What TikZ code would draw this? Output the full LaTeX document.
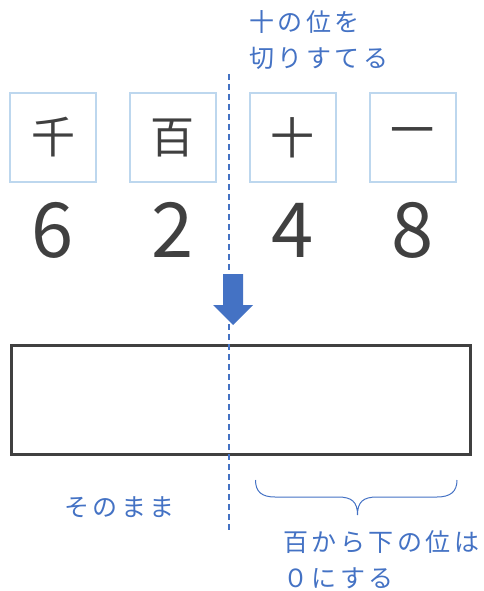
\documentclass[tikz,border=0pt]{standalone}
\usepackage{fontspec}
\setmainfont{Noto Sans CJK JP}
\newfontfamily\jp[LetterSpace=14]{Noto Sans CJK JP}
\definecolor{txtblue}{HTML}{4472C4}
\definecolor{boxblue}{HTML}{BDD7EE}
\definecolor{dark}{HTML}{404040}
\begin{document}
\begin{tikzpicture}[x=1pt,y=-1pt,
  place/.style={draw=boxblue,line width=2pt,minimum width=86pt,minimum height=89pt,inner sep=0pt,text=dark,font=\fontsize{44}{44}\selectfont},
  digit/.style={anchor=base,inner sep=0pt,text=dark,font=\fontsize{76}{76}\selectfont},
  note/.style={inner sep=0pt,text=txtblue,align=left,font=\jp\fontsize{25}{36}\selectfont},
  cut/.style={txtblue,line width=1.6pt,dash pattern=on 6pt off 4pt}]
\useasboundingbox (0,0) rectangle (483,591);
\node[place] (sen) at (53,137.5) {千};
\node[place] (hyaku) at (172.5,137.5) {百};
\node[place] (juu) at (292.5,137.5) {十};
\node[place] (ichi) at (412.5,137.5) {一};
\node[digit] (d6) at (53,257) {6};
\node[digit] (d2) at (172.5,257) {2};
\node[digit] (d4) at (292.5,257) {4};
\node[digit] (d8) at (412.5,257) {8};
\node[note,anchor=west] (top) at (249,40) {十の位を\\切りすてる};
\node[draw=dark,line width=3pt,minimum width=459pt,minimum height=109pt,inner sep=0pt,anchor=north west] (res) at (9.5,343.5) {};
\coordinate (c1) at (229,74);
\coordinate (c2) at (229,530);
\draw[cut] (c1) -- (c2);
\fill[txtblue] (223,274) -- (243,274) -- (243,305) -- (253,305) -- (233,325) -- (213,305) -- (223,305) -- cycle;
\node[note,anchor=west] (keep) at (64,507) {そのまま};
\coordinate (bl) at (255.5,480);
\coordinate (br) at (457,480);
\coordinate (bt) at (357.5,515);
\draw[txtblue,line width=1pt] (bl) .. controls (255.5,492) and (262,497) .. (275,497) -- (338,497)
  .. controls (352,497) and (357.5,502) .. (bt)
  .. controls (357.5,502) and (363,497) .. (377,497) -- (437,497)
  .. controls (450,497) and (457,492) .. (br);
\node[note,anchor=west] (zero) at (283,560) {百から下の位は\\０にする};
\end{tikzpicture}
\end{document}
